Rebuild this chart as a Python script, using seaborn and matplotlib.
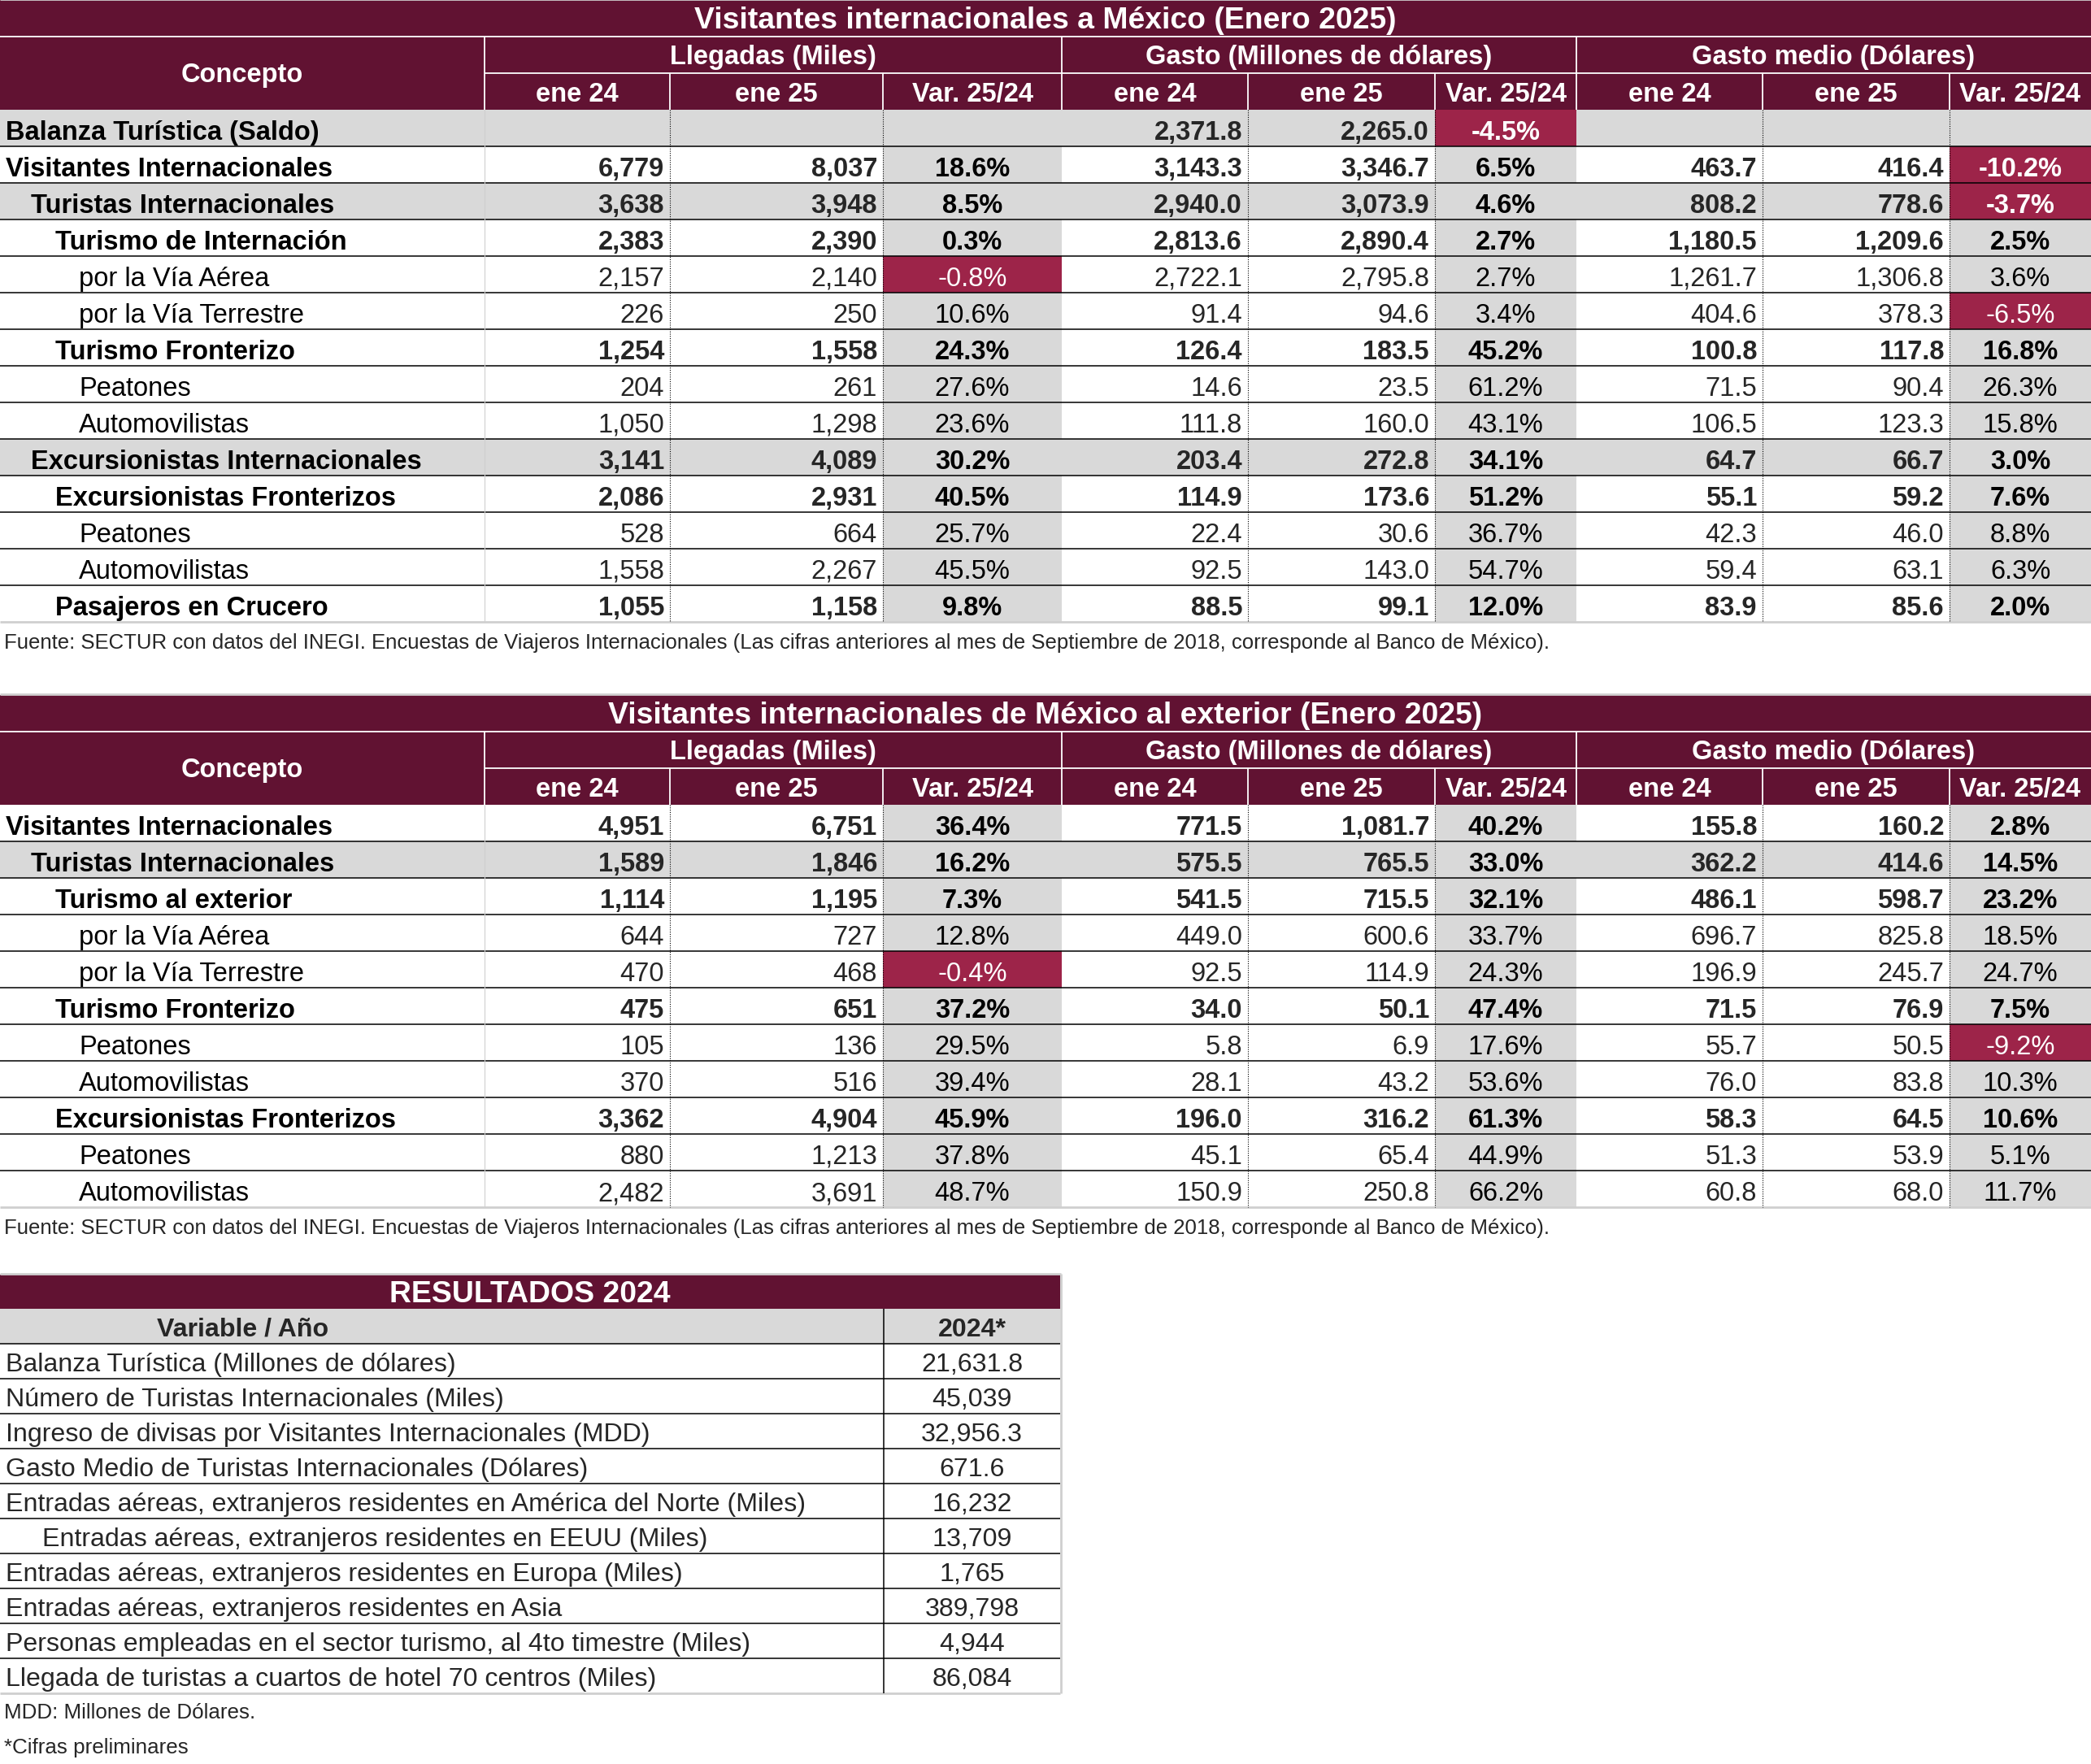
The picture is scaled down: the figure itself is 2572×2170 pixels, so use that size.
"""Tablas de visitantes internacionales (Enero 2025) y resultados 2024."""

import matplotlib

matplotlib.use("Agg")
import matplotlib.pyplot as plt
from matplotlib.patches import Rectangle
import seaborn as sns


# --- Visitantes internacionales a México (Enero 2025) ---
concepts_in = [
    "Balanza Turística (Saldo)", "Visitantes Internacionales", "Turistas Internacionales",
    "Turismo de Internación", "por la Vía Aérea", "por la Vía Terrestre", "Turismo Fronterizo",
    "Peatones", "Automovilistas", "Excursionistas Internacionales", "Excursionistas Fronterizos",
    "Peatones", "Automovilistas", "Pasajeros en Crucero",
]
levels_in = [0, 0, 1, 2, 3, 3, 2, 3, 3, 1, 2, 3, 3, 2]
bold_in = [1, 1, 1, 1, 0, 0, 1, 0, 0, 1, 1, 0, 0, 1]
shaded_in = [0, 2, 9]
llegadas_24_in = [None, 6779, 3638, 2383, 2157, 226, 1254, 204, 1050, 3141, 2086, 528, 1558, 1055]
llegadas_25_in = [None, 8037, 3948, 2390, 2140, 250, 1558, 261, 1298, 4089, 2931, 664, 2267, 1158]
llegadas_var_in = [None, 18.6, 8.5, 0.3, -0.8, 10.6, 24.3, 27.6, 23.6, 30.2, 40.5, 25.7, 45.5, 9.8]
gasto_24_in = [2371.8, 3143.3, 2940.0, 2813.6, 2722.1, 91.4, 126.4, 14.6, 111.8, 203.4, 114.9, 22.4, 92.5, 88.5]
gasto_25_in = [2265.0, 3346.7, 3073.9, 2890.4, 2795.8, 94.6, 183.5, 23.5, 160.0, 272.8, 173.6, 30.6, 143.0, 99.1]
gasto_var_in = [-4.5, 6.5, 4.6, 2.7, 2.7, 3.4, 45.2, 61.2, 43.1, 34.1, 51.2, 36.7, 54.7, 12.0]
medio_24_in = [None, 463.7, 808.2, 1180.5, 1261.7, 404.6, 100.8, 71.5, 106.5, 64.7, 55.1, 42.3, 59.4, 83.9]
medio_25_in = [None, 416.4, 778.6, 1209.6, 1306.8, 378.3, 117.8, 90.4, 123.3, 66.7, 59.2, 46.0, 63.1, 85.6]
medio_var_in = [None, -10.2, -3.7, 2.5, 3.6, -6.5, 16.8, 26.3, 15.8, 3.0, 7.6, 8.8, 6.3, 2.0]

# --- Visitantes internacionales de México al exterior (Enero 2025) ---
concepts_out = [
    "Visitantes Internacionales", "Turistas Internacionales", "Turismo al exterior",
    "por la Vía Aérea", "por la Vía Terrestre", "Turismo Fronterizo", "Peatones",
    "Automovilistas", "Excursionistas Fronterizos", "Peatones", "Automovilistas",
]
levels_out = [0, 1, 2, 3, 3, 2, 3, 3, 2, 3, 3]
bold_out = [1, 1, 1, 0, 0, 1, 0, 0, 1, 0, 0]
shaded_out = [1]
llegadas_24_out = [4951, 1589, 1114, 644, 470, 475, 105, 370, 3362, 880, 2482]
llegadas_25_out = [6751, 1846, 1195, 727, 468, 651, 136, 516, 4904, 1213, 3691]
llegadas_var_out = [36.4, 16.2, 7.3, 12.8, -0.4, 37.2, 29.5, 39.4, 45.9, 37.8, 48.7]
gasto_24_out = [771.5, 575.5, 541.5, 449.0, 92.5, 34.0, 5.8, 28.1, 196.0, 45.1, 150.9]
gasto_25_out = [1081.7, 765.5, 715.5, 600.6, 114.9, 50.1, 6.9, 43.2, 316.2, 65.4, 250.8]
gasto_var_out = [40.2, 33.0, 32.1, 33.7, 24.3, 47.4, 17.6, 53.6, 61.3, 44.9, 66.2]
medio_24_out = [155.8, 362.2, 486.1, 696.7, 196.9, 71.5, 55.7, 76.0, 58.3, 51.3, 60.8]
medio_25_out = [160.2, 414.6, 598.7, 825.8, 245.7, 76.9, 50.5, 83.8, 64.5, 53.9, 68.0]
medio_var_out = [2.8, 14.5, 23.2, 18.5, 24.7, 7.5, -9.2, 10.3, 10.6, 5.1, 11.7]

# --- Resultados 2024 ---
resultados_vars = [
    "Balanza Turística (Millones de dólares)",
    "Número de Turistas Internacionales (Miles)",
    "Ingreso de divisas por Visitantes Internacionales (MDD)",
    "Gasto Medio de Turistas Internacionales (Dólares)",
    "Entradas aéreas, extranjeros residentes en América del Norte (Miles)",
    "Entradas aéreas, extranjeros residentes en EEUU (Miles)",
    "Entradas aéreas, extranjeros residentes en Europa (Miles)",
    "Entradas aéreas, extranjeros residentes en Asia",
    "Personas empleadas en el sector turismo, al 4to timestre (Miles)",
    "Llegada de turistas a cuartos de hotel 70 centros (Miles)",
]
resultados_levels = [0, 0, 0, 0, 0, 1, 0, 0, 0, 0]
resultados_2024 = [21631.8, 45039, 32956.3, 671.6, 16232, 13709, 1765, 389798, 4944, 86084]

group_labels = ["Llegadas (Miles)", "Gasto (Millones de dólares)", "Gasto medio (Dólares)"]
sub_labels = ["ene 24", "ene 25", "Var. 25/24"]
fuente = ("Fuente: SECTUR con datos del INEGI. Encuestas de Viajeros Internacionales "
          "(Las cifras anteriores al mes de Septiembre de 2018, corresponde al Banco de México).")

W, H = 2572, 2170
MAROON = "#611232"
RED = "#9D2449"
GRAY = "#D9D9D9"
EDGE_GRAY = "#CFCFCF"
COL_X = [0, 596, 824, 1086, 1306, 1535, 1765, 1939, 2168, 2398, 2572]
ROW_H = 45
INDENT = [7, 38, 68, 97]
FS = 23.5
FS_RES = 23.1
FS_TITLE = 26.9
FS_NOTE = 18.5
FS_SMALL = 18.7


def fmt_int(v):
    return "" if v is None else f"{v:,.0f}"


def fmt_dec(v):
    return "" if v is None else f"{v:,.1f}"


def fmt_pct(v):
    return "" if v is None else f"{v:.1f}%"


def hline(ax, y, x0, x1, color="black", lw=1.1, ls="-"):
    ax.plot([x0, x1], [y, y], color=color, lw=lw, ls=ls, solid_capstyle="butt")


def vline(ax, x, y0, y1, color="black", lw=1.1, ls="-"):
    ax.plot([x, x], [y0, y1], color=color, lw=lw, ls=ls, solid_capstyle="butt")


def draw_visitor_table(ax, top, title, concepts, levels, bold, shaded, blocks):
    # header
    ax.add_patch(Rectangle((0, top), W, 3 * ROW_H, color=MAROON, lw=0))
    ax.text(W / 2, top + ROW_H - 10, title, color="white", fontsize=FS_TITLE,
            weight="bold", ha="center", va="baseline")
    ax.text(COL_X[1] / 2, top + 101, "Concepto", color="white", fontsize=FS,
            weight="bold", ha="center", va="baseline")
    for g, label in enumerate(group_labels):
        x0, x1 = COL_X[1 + 3 * g], COL_X[4 + 3 * g]
        ax.text((x0 + x1) / 2, top + 2 * ROW_H - 11, label, color="white", fontsize=FS,
                weight="bold", ha="center", va="baseline")
        for s, sub in enumerate(sub_labels):
            a, b = COL_X[1 + 3 * g + s], COL_X[2 + 3 * g + s]
            ax.text((a + b) / 2, top + 3 * ROW_H - 10, sub, color="white", fontsize=FS,
                    weight="bold", ha="center", va="baseline")
    hline(ax, top + ROW_H, 0, W, color="white", lw=1.3)
    hline(ax, top + 2 * ROW_H, COL_X[1], W, color="white", lw=1.3)
    for k, x in enumerate(COL_X[1:-1]):
        y0 = top + ROW_H if k % 3 == 0 else top + 2 * ROW_H
        vline(ax, x, y0, top + 3 * ROW_H, color="white", lw=1.3)

    # body
    body_top = top + 3 * ROW_H
    n = len(concepts)
    for i in range(n):
        y0 = body_top + i * ROW_H
        base = y0 + ROW_H - 8
        weight = "bold" if bold[i] else "normal"
        if i in shaded:
            ax.add_patch(Rectangle((0, y0), W, ROW_H, color=GRAY, lw=0))
        ax.text(INDENT[levels[i]], base, concepts[i], fontsize=FS, weight=weight,
                ha="left", va="baseline", color="black")
        for g, (v24, v25, var, fmt) in enumerate(blocks):
            c = 1 + 3 * g
            var_val = var[i]
            var_color = GRAY
            txt_color = "black"
            if var_val is not None and var_val < 0:
                var_color = RED
                txt_color = "white"
            ax.add_patch(Rectangle((COL_X[c + 2], y0), COL_X[c + 3] - COL_X[c + 2], ROW_H,
                                   color=var_color, lw=0))
            ax.text(COL_X[c + 1] - 7, base, fmt(v24[i]), fontsize=FS, weight=weight,
                    ha="right", va="baseline")
            ax.text(COL_X[c + 2] - 7, base, fmt(v25[i]), fontsize=FS, weight=weight,
                    ha="right", va="baseline")
            ax.text((COL_X[c + 2] + COL_X[c + 3]) / 2, base, fmt_pct(var_val), fontsize=FS,
                    weight=weight, ha="center", va="baseline", color=txt_color)
        hline(ax, y0 + ROW_H, 0, W, color="black" if i < n - 1 else EDGE_GRAY,
              lw=1.1 if i < n - 1 else 2.0)
    body_bottom = body_top + n * ROW_H
    vline(ax, COL_X[1], body_top, body_bottom, color=EDGE_GRAY, lw=0.8)
    for g in range(3):
        for s in (1, 2):
            vline(ax, COL_X[1 + 3 * g + s], body_top, body_bottom, lw=0.8, ls=(0, (1, 1.5)))
    hline(ax, top - 1, 0, W, color=EDGE_GRAY, lw=2.0)
    ax.text(5, body_bottom + 33, fuente, fontsize=FS_NOTE, ha="left", va="baseline")


def fmt_result(v):
    return f"{v:,.1f}" if isinstance(v, float) else f"{v:,}"


def draw_results_table(ax, top):
    x_split, x_end = 1087, 1304
    rh = 43
    ax.add_patch(Rectangle((0, top), x_end, 42, color=MAROON, lw=0))
    ax.text(x_end / 2, top + 42 - 8, "RESULTADOS 2024", color="white", fontsize=FS_TITLE,
            weight="bold", ha="center", va="baseline")
    head = top + 42
    ax.add_patch(Rectangle((0, head), x_end, rh, color=GRAY, lw=0))
    ax.text(299, head + rh - 9, "Variable / Año", fontsize=FS_RES, weight="bold",
            ha="center", va="baseline")
    ax.text((x_split + x_end) / 2, head + rh - 9, "2024*", fontsize=FS_RES, weight="bold",
            ha="center", va="baseline")
    hline(ax, head + rh, 0, x_end)
    n = len(resultados_vars)
    for i in range(n):
        y0 = head + rh * (i + 1)
        base = y0 + rh - 9
        x_label = 7 if resultados_levels[i] == 0 else 52
        ax.text(x_label, base, resultados_vars[i], fontsize=FS_RES, ha="left", va="baseline")
        ax.text((x_split + x_end) / 2, base, fmt_result(resultados_2024[i]), fontsize=FS_RES,
                ha="center", va="baseline")
        hline(ax, y0 + rh, 0, x_end, color="black" if i < n - 1 else EDGE_GRAY,
              lw=1.1 if i < n - 1 else 2.0)
    bottom = head + rh * (n + 1)
    vline(ax, x_split, head, bottom)
    hline(ax, top - 1, 0, x_end + 1, color=EDGE_GRAY, lw=2.0)
    vline(ax, x_end + 1, top - 1, bottom, color=EDGE_GRAY, lw=2.0)
    ax.text(5, bottom + 31, "MDD: Millones de Dólares.", fontsize=FS_SMALL,
            ha="left", va="baseline")
    ax.text(5, bottom + 74, "*Cifras preliminares", fontsize=FS_SMALL,
            ha="left", va="baseline")


def main() -> None:
    sns.set_theme(style="white")
    plt.rcParams["font.family"] = ["Liberation Sans", "DejaVu Sans"]

    fig = plt.figure(figsize=(W / 100, H / 100), dpi=100)
    ax = fig.add_axes([0, 0, 1, 1])
    ax.set_xlim(0, W)
    ax.set_ylim(H, 0)
    ax.axis("off")

    blocks_in = [
        (llegadas_24_in, llegadas_25_in, llegadas_var_in, fmt_int),
        (gasto_24_in, gasto_25_in, gasto_var_in, fmt_dec),
        (medio_24_in, medio_25_in, medio_var_in, fmt_dec),
    ]
    blocks_out = [
        (llegadas_24_out, llegadas_25_out, llegadas_var_out, fmt_int),
        (gasto_24_out, gasto_25_out, gasto_var_out, fmt_dec),
        (medio_24_out, medio_25_out, medio_var_out, fmt_dec),
    ]
    draw_visitor_table(ax, 0, "Visitantes internacionales a México (Enero 2025)",
                       concepts_in, levels_in, bold_in, shaded_in, blocks_in)
    draw_visitor_table(ax, 855, "Visitantes internacionales de México al exterior (Enero 2025)",
                       concepts_out, levels_out, bold_out, shaded_out, blocks_out)
    draw_results_table(ax, 1568)

    fig.savefig("out.png", dpi=100, facecolor="white")
    plt.close(fig)


if __name__ == "__main__":
    main()
